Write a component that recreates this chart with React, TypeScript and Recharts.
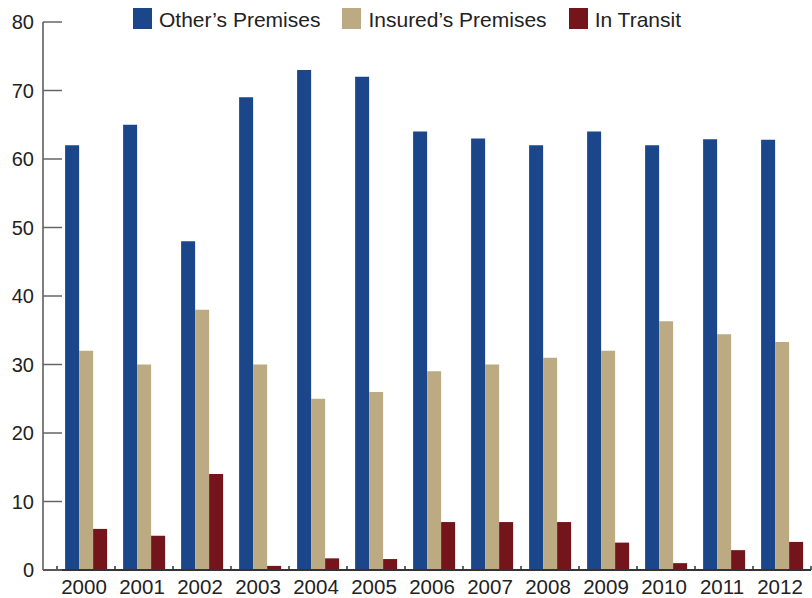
import { BarChart, Bar, XAxis, YAxis } from 'recharts'

const YEARS = ['2000', '2001', '2002', '2003', '2004', '2005', '2006', '2007', '2008', '2009', '2010', '2011', '2012']
const OTHERS_PREMISES = [62, 65, 48, 69, 73, 72, 64, 63, 62, 64, 62, 62.9, 62.8]
const INSURED_PREMISES = [32, 30, 38, 30, 25, 26, 29, 30, 31, 32, 36.3, 34.4, 33.3]
const IN_TRANSIT = [6, 5, 14, 0.6, 1.7, 1.6, 7, 7, 7, 4, 1, 2.9, 4.1]
const Y_TICKS = [0, 10, 20, 30, 40, 50, 60, 70, 80]

const SERIES = [
  { key: 'others', name: 'Other\u2019s Premises', color: '#1b4689' },
  { key: 'insured', name: 'Insured\u2019s Premises', color: '#bbaa82' },
  { key: 'transit', name: 'In Transit', color: '#73151b' },
]

const data = YEARS.map((year, i) => ({
  year,
  others: OTHERS_PREMISES[i],
  insured: INSURED_PREMISES[i],
  transit: IN_TRANSIT[i],
}))

const FONT = '"Liberation Sans", Arial, sans-serif'

function YTick(props: any) {
  const { x, y, payload } = props
  return (
    <g>
      <line x1={x} x2={x + 19} y1={y} y2={y} stroke="#666" strokeWidth={1.5} />
      <text x={x - 9} y={y} dy="0.36em" textAnchor="end" fontSize={20} fill="#222" fontFamily={FONT}>
        {payload.value}
      </text>
    </g>
  )
}

function XTick(props: any) {
  const { x, y, payload, index } = props
  const half = payload.offset ?? 0
  return (
    <g>
      {half > 0 && <line x1={x - half} x2={x - half} y1={y - 4} y2={y} stroke="#333" strokeWidth={1.5} />}
      {half > 0 && index === YEARS.length - 1 && (
        <line x1={x + half} x2={x + half} y1={y - 4} y2={y} stroke="#333" strokeWidth={1.5} />
      )}
      <text x={x - 2} y={y + 9} dy="0.71em" textAnchor="middle" fontSize={20.5} fill="#222" fontFamily={FONT}>
        {payload.value}
      </text>
    </g>
  )
}

export default function App() {
  return (
    <div style={{ position: 'absolute', left: 0, top: 0, width: 812, height: 598, background: '#fff' }}>
      <BarChart
        width={812}
        height={598}
        data={data}
        margin={{ top: 22, right: 1, bottom: 0, left: 0 }}
        barCategoryGap="14%"
        barGap={0}
      >
        <XAxis
          dataKey="year"
          height={28}
          padding={{ left: 14, right: 0 }}
          tickSize={0}
          tickMargin={0}
          tickLine={false}
          axisLine={{ stroke: '#333', strokeWidth: 2 }}
          tick={<XTick />}
          interval={0}
        />
        <YAxis
          width={43}
          domain={[0, 80]}
          ticks={Y_TICKS}
          tickSize={0}
          tickMargin={0}
          tickLine={false}
          axisLine={{ stroke: '#555', strokeWidth: 1.5 }}
          tick={<YTick />}
          interval={0}
        />
        {SERIES.map((s) => (
          <Bar key={s.key} dataKey={s.key} name={s.name} fill={s.color} isAnimationActive={false} />
        ))}
      </BarChart>
      <div
        style={{
          position: 'absolute',
          left: 133,
          top: 8,
          display: 'flex',
          alignItems: 'center',
          fontFamily: FONT,
          fontSize: 21,
          color: '#222',
          whiteSpace: 'nowrap',
        }}
      >
        {SERIES.map((s) => (
          <div key={s.key} style={{ display: 'flex', alignItems: 'center', marginRight: 22, height: 21 }}>
            <span style={{ width: 19, height: 21, background: s.color, marginRight: 7, display: 'inline-block' }} />
            <span style={{ lineHeight: '21px', position: 'relative', top: 1 }}>{s.name}</span>
          </div>
        ))}
      </div>
    </div>
  )
}
